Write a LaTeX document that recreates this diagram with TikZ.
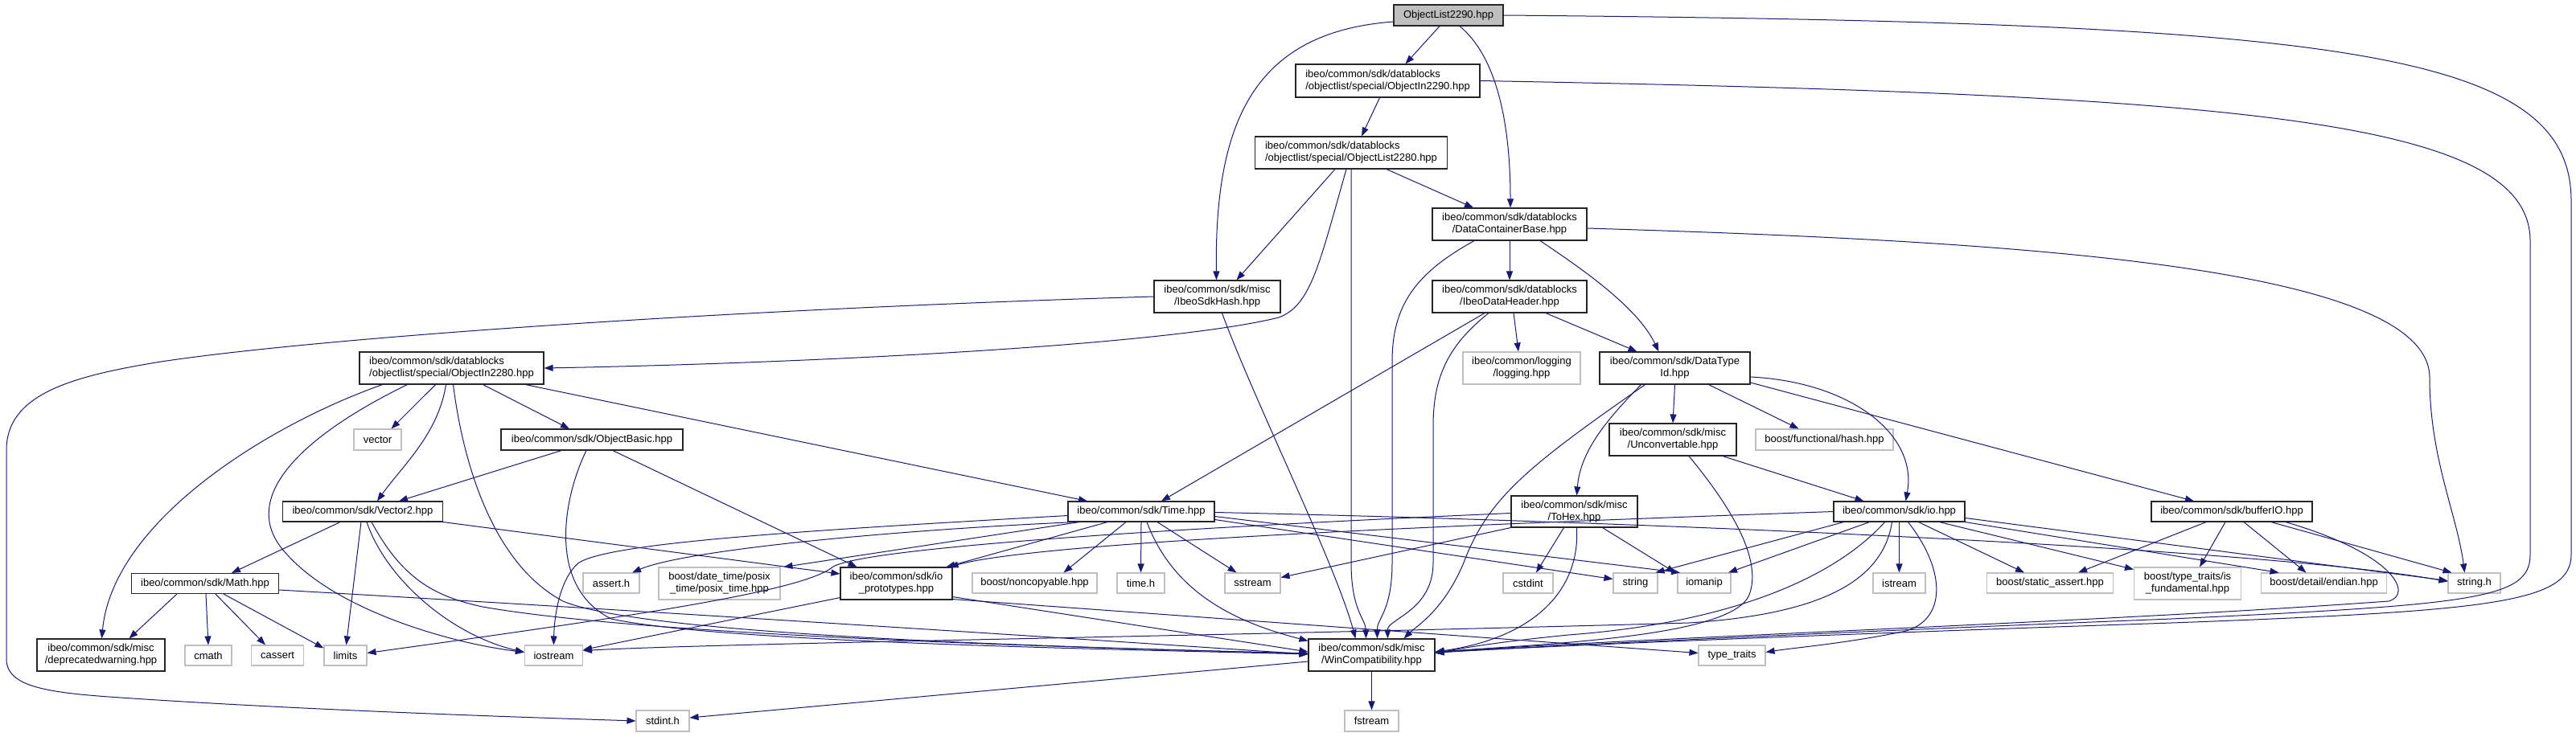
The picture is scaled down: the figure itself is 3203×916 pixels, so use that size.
\documentclass[tikz,border=0pt]{standalone}
\usepackage{fontspec}
\setmainfont{Liberation Sans}
\usetikzlibrary{arrows.meta}
\definecolor{edgec}{RGB}{25,25,112}
\definecolor{extgray}{RGB}{191,191,191}
\newcommand\mk[7]{\node[#2,minimum width=#5pt,minimum height=#6pt] (#1) at (#3,#4) {#7};}
\begin{document}
\begin{tikzpicture}[x=1pt,y=-1pt,
  base/.style={inner sep=0pt,align=center,font=\fontsize{13pt}{15pt}\selectfont,line width=1.1pt},
  fnode/.style={base,draw=black!85,fill=white},
  lnode/.style={fnode,align=left},
  xnode/.style={base,draw=extgray,fill=white},
  rnode/.style={base,draw=black!85,fill=extgray},
  edg/.style={draw=edgec,line width=1pt,-{Triangle[length=11pt,width=8pt]}}]
\fill[white] (0,0) rectangle (3203,916);
\useasboundingbox (0,0) rectangle (3203,916);
% nodes
\mk{l2290}{rnode}{1801}{19}{136}{26}{ObjectList2290.hpp}
\mk{in2290}{lnode}{1725.5}{100.5}{229}{41}{ibeo/common/sdk/datablocks\\/objectlist/special/ObjectIn2290.hpp}
\mk{l2280}{lnode}{1680}{190}{239}{40}{ibeo/common/sdk/datablocks\\/objectlist/special/ObjectList2280.hpp}
\mk{dcb}{fnode}{1877}{279}{192}{40}{ibeo/common/sdk/datablocks\\/DataContainerBase.hpp}
\mk{hash}{fnode}{1513.5}{369}{157}{40}{ibeo/common/sdk/misc\\/IbeoSdkHash.hpp}
\mk{idh}{fnode}{1877}{369}{192}{40}{ibeo/common/sdk/datablocks\\/IbeoDataHeader.hpp}
\mk{in2280}{lnode}{561.5}{458}{229}{40}{ibeo/common/sdk/datablocks\\/objectlist/special/ObjectIn2280.hpp}
\mk{logging}{xnode}{1892}{458}{146}{40}{ibeo/common/logging\\/logging.hpp}
\mk{dtid}{fnode}{2082.5}{458}{187}{40}{ibeo/common/sdk/DataType\\Id.hpp}
\mk{vector}{xnode}{469.5}{547}{59}{26}{vector}
\mk{objbasic}{fnode}{736}{547}{226}{26}{ibeo/common/sdk/ObjectBasic.hpp}
\mk{unconv}{fnode}{2080}{547}{158}{40}{ibeo/common/sdk/misc\\/Unconvertable.hpp}
\mk{fhash}{xnode}{2268.5}{547}{171}{26}{boost/functional/hash.hpp}
\mk{vector2}{fnode}{451}{636.5}{199}{25}{ibeo/common/sdk/Vector2.hpp}
\mk{time}{fnode}{1419}{636.5}{182}{25}{ibeo/common/sdk/Time.hpp}
\mk{tohex}{fnode}{1957.5}{636.5}{157}{39}{ibeo/common/sdk/misc\\/ToHex.hpp}
\mk{io}{fnode}{2361.5}{636.5}{163}{25}{ibeo/common/sdk/io.hpp}
\mk{bufferio}{fnode}{2775}{636.5}{200}{25}{ibeo/common/sdk/bufferIO.hpp}
\mk{math}{fnode}{255}{726}{183}{25}{ibeo/common/sdk/Math.hpp}
\mk{asserth}{xnode}{760}{725.5}{70}{25}{assert.h}
\mk{posix}{xnode}{894.5}{726}{151}{40}{boost/date\_time/posix\\\_time/posix\_time.hpp}
\mk{iop}{fnode}{1114.5}{726}{139}{40}{ibeo/common/sdk/io\\\_prototypes.hpp}
\mk{noncopy}{xnode}{1286.5}{725.5}{155}{25}{boost/noncopyable.hpp}
\mk{timeh}{xnode}{1418.5}{725.5}{59}{25}{time.h}
\mk{sstream}{xnode}{1557.5}{725.5}{69}{25}{sstream}
\mk{cstdint}{xnode}{1900}{725.5}{62}{25}{cstdint}
\mk{string}{xnode}{2033.5}{725.5}{55}{25}{string}
\mk{iomanip}{xnode}{2119}{725.5}{66}{25}{iomanip}
\mk{istream}{xnode}{2361.5}{725.5}{65}{25}{istream}
\mk{sassert}{xnode}{2549}{725.5}{157}{25}{boost/static\_assert.hpp}
\mk{isfund}{xnode}{2720}{726}{133}{40}{boost/type\_traits/is\\\_fundamental.hpp}
\mk{endian}{xnode}{2889.5}{725.5}{156}{25}{boost/detail/endian.hpp}
\mk{stringh}{xnode}{3076.5}{725.5}{65}{25}{string.h}
\mk{depw}{fnode}{125.5}{815}{159}{40}{ibeo/common/sdk/misc\\/deprecatedwarning.hpp}
\mk{cmath}{xnode}{259}{815.5}{58}{25}{cmath}
\mk{cassert}{xnode}{345}{815.5}{65}{25}{cassert}
\mk{limits}{xnode}{429.5}{815.5}{53}{25}{limits}
\mk{iostream}{xnode}{688.5}{815.5}{72}{25}{iostream}
\mk{wincomp}{fnode}{1705.5}{815}{157}{40}{ibeo/common/sdk/misc\\/WinCompatibility.hpp}
\mk{typetraits}{xnode}{2153.5}{815.5}{83}{25}{type\_traits}
\mk{stdinth}{xnode}{824}{897}{66}{26}{stdint.h}
\mk{fstream}{xnode}{1705.5}{897}{67}{26}{fstream}
% edges
\draw[edg] ([xshift=-11pt]l2290.south) -- ([xshift=22pt]in2290.north);
\draw[edg] ([yshift=-8pt]l2290.west) .. controls (1560,40) and (1510,150) .. ([xshift=-1pt]hash.north);
\draw[edg] ([xshift=14pt]l2290.south) .. controls (1860,70) and (1878,150) .. ([xshift=1pt]dcb.north);
\draw[edg] (l2290.east) .. controls (2900,28) and (3197,60) .. (3197,250) -- (3197,690) .. controls (3197,750) and (3100,760) .. (2700,775) .. controls (2200,792) and (1900,805) .. ([yshift=3pt]wincomp.east);
\draw[edg] ([xshift=-10pt]in2290.south) -- ([xshift=13pt]l2280.north);
\draw[edg] (in2290.east) .. controls (2800,118) and (3146,150) .. (3146,300) -- (3146,690) .. controls (3146,745) and (3080,752) .. (2700,770) .. controls (2200,790) and (1900,805) .. ([yshift=3pt]wincomp.east);
\draw[edg] ([xshift=-20pt]l2280.south) -- ([xshift=24pt]hash.north);
\draw[edg] ([xshift=44pt]l2280.south) -- ([xshift=-45pt]dcb.north);
\draw[edg] (l2280.south) -- (1680,700) .. controls (1680,760) and (1698,770) .. ([xshift=-7pt]wincomp.north);
\draw[edg] ([xshift=-6pt]l2280.south) .. controls (1640,330) and (1630,380) .. (1590,395) .. controls (1450,430) and (1000,452) .. (in2280.east);
\draw[edg] (dcb.south) -- (idh.north);
\draw[edg] ([xshift=38pt]dcb.south) .. controls (1960,330) and (2035,380) .. ([xshift=-20pt]dtid.north);
\draw[edg] ([xshift=-44pt]dcb.south) .. controls (1760,340) and (1731,380) .. (1731,450) -- (1731,700) .. controls (1731,760) and (1712,770) .. ([xshift=7pt]wincomp.north);
\draw[edg] ([yshift=-5pt]dcb.east) .. controls (2500,300) and (3021,330) .. (3021,470) .. controls (3021,570) and (3055,640) .. ([xshift=-12pt]stringh.north);
\draw[edg] (hash.west) .. controls (900,385) and (400,420) .. (200,450) .. controls (90,468) and (8,490) .. (8,560) -- (8,820) .. controls (8,855) and (60,862) .. (150,868) .. controls (400,885) and (700,894) .. (stdinth.west);
\draw[edg] ([xshift=6pt]hash.south) .. controls (1560,500) and (1660,700) .. ([xshift=-20pt]wincomp.north);
\draw[edg] ([xshift=5pt]idh.south) -- ([xshift=-4pt]logging.north);
\draw[edg] ([xshift=45pt]idh.south) -- ([xshift=-47pt]dtid.north);
\draw[edg] ([xshift=-26pt]idh.south) .. controls (1800,430) and (1782,470) .. (1782,530) -- (1782,700) .. controls (1782,760) and (1725,770) .. ([xshift=20pt]wincomp.north);
\draw[edg] ([xshift=-31pt]idh.south) -- ([xshift=25pt]time.north);
\draw[edg] ([xshift=-86pt]in2280.south) .. controls (330,530) and (140,650) .. ([xshift=1pt]depw.north);
\draw[edg] ([xshift=-55pt]in2280.south) .. controls (380,540) and (290,620) .. (357,690) .. controls (420,760) and (560,800) .. ([yshift=4pt]iostream.west);
\draw[edg] ([xshift=-20pt]in2280.south) -- ([xshift=17pt]vector.north);
\draw[edg] ([xshift=-7pt]in2280.south) .. controls (545,540) and (500,580) .. ([xshift=18pt]vector2.north);
\draw[edg] ([xshift=2pt]in2280.south) .. controls (575,570) and (610,700) .. (700,748) .. controls (800,790) and (1300,805) .. ([yshift=2pt]wincomp.west);
\draw[edg] ([xshift=39pt]in2280.south) -- ([xshift=-28pt]objbasic.north);
\draw[edg] ([xshift=92pt]in2280.south) -- ([xshift=-67pt]time.north);
\draw[edg] (dtid.south) -- (unconv.north);
\draw[edg] ([xshift=42pt]dtid.south) -- ([xshift=-32pt]fhash.north);
\draw[edg] ([yshift=-11pt]dtid.east) .. controls (2300,475) and (2385,540) .. ([xshift=8pt]io.north);
\draw[edg] ([yshift=-18pt]dtid.east) -- ([xshift=-47pt]bufferio.north);
\draw[edg] ([xshift=-42pt]dtid.south) .. controls (2000,520) and (1965,560) .. ([xshift=3pt]tohex.north);
\draw[edg] ([xshift=-37pt]dtid.south) .. controls (1900,580) and (1850,620) .. (1820,700) .. controls (1795,760) and (1760,780) .. ([xshift=40pt]wincomp.north);
\draw[edg] ([xshift=-38pt]objbasic.south) -- ([xshift=45pt]vector2.north);
\draw[edg] ([xshift=-7pt]objbasic.south) .. controls (700,620) and (680,730) .. (760,770) .. controls (900,800) and (1400,808) .. ([yshift=1pt]wincomp.west);
\draw[edg] ([xshift=26pt]objbasic.south) -- ([xshift=-49pt]iop.north);
\draw[edg] ([xshift=62pt]unconv.south) -- ([xshift=-44pt]io.north);
\draw[edg] ([xshift=20pt]unconv.south) .. controls (2160,640) and (2190,700) .. (2175,740) .. controls (2155,790) and (1950,800) .. ([yshift=4pt]wincomp.east);
\draw[edg] ([xshift=-28pt]vector2.south) -- ([xshift=33pt]math.north);
\draw[edg] ([xshift=-2pt]vector2.south) -- ([xshift=1pt]limits.north);
\draw[edg] ([xshift=5pt]vector2.south) .. controls (480,720) and (560,790) .. ([yshift=4pt]iostream.west);
\draw[edg] ([xshift=11pt]vector2.south) .. controls (500,720) and (540,742) .. (600,755) .. controls (800,790) and (1300,805) .. ([yshift=2pt]wincomp.west);
\draw[edg] (vector2.south east) -- ([yshift=12pt]iop.west);
\draw[edg] ([yshift=-5pt]time.west) .. controls (1000,660) and (760,675) .. (720,700) .. controls (695,720) and (689,770) .. (iostream.north);
\draw[edg] ([xshift=-82pt]time.south) .. controls (1100,660) and (850,685) .. ([xshift=26pt]asserth.north);
\draw[edg] ([xshift=-77pt]time.south) -- ([xshift=80pt]posix.north);
\draw[edg] ([xshift=-42pt]time.south) -- ([xshift=62pt]iop.north);
\draw[edg] ([xshift=-19pt]time.south) -- ([xshift=36pt]noncopy.north);
\draw[edg] (time.south) -- (timeh.north);
\draw[edg] ([xshift=20pt]time.south) -- ([xshift=-20pt]sstream.north);
\draw[edg] ([xshift=7pt]time.south) .. controls (1460,740) and (1540,775) .. ([yshift=-3pt]wincomp.north west);
\draw[edg] ([yshift=-10pt]time.east) -- ([yshift=5pt]string.west);
\draw[edg] ([yshift=-6pt]time.east) -- ([xshift=-30pt]iomanip.north);
\draw[edg] ([yshift=-1pt]time.east) .. controls (2000,648) and (2800,680) .. ([yshift=2pt]stringh.west);
\draw[edg] (tohex.south west) -- ([yshift=7pt]sstream.east);
\draw[edg] ([xshift=-13pt]tohex.south) -- ([xshift=10pt]cstdint.north);
\draw[edg] ([xshift=35pt]tohex.south) -- ([xshift=-36pt]iomanip.north);
\draw[edg] ([xshift=3pt]tohex.south) .. controls (1965,740) and (1900,795) .. ([yshift=4pt]wincomp.east);
\draw[edg] ([yshift=-2pt]tohex.west) .. controls (1500,655) and (1080,680) .. (1036,705) .. controls (1000,735) and (800,765) .. ([yshift=3pt]limits.east);
\draw[edg] (io.west) .. controls (1900,650) and (1300,672) .. ([xshift=-4pt]iop.north east);
\draw[edg] ([xshift=-69pt]io.south) -- ([xshift=25pt]string.north);
\draw[edg] ([xshift=-37pt]io.south) -- ([xshift=30pt]iomanip.north);
\draw[edg] ([xshift=-18pt]io.south) .. controls (2280,720) and (2150,775) .. (1950,790) .. controls (1850,800) and (1810,808) .. ([yshift=2pt]wincomp.east);
\draw[edg] ([xshift=-9pt]io.south) .. controls (2340,730) and (2250,765) .. (2100,775) .. controls (1500,792) and (900,800) .. ([yshift=6pt]iostream.east);
\draw[edg] (io.south) -- (istream.north);
\draw[edg] ([xshift=11pt]io.south) .. controls (2420,710) and (2420,770) .. (2370,785) .. controls (2300,800) and (2230,806) .. ([yshift=4pt]typetraits.east);
\draw[edg] ([xshift=24pt]io.south) -- ([xshift=-32pt]sassert.north);
\draw[edg] ([xshift=50pt]io.south) -- ([yshift=-3pt]isfund.north west);
\draw[edg] (io.south east) -- ([xshift=-56pt]endian.north);
\draw[edg] ([yshift=-8pt]io.east) -- ([yshift=3pt]stringh.west);
\draw[edg] ([xshift=-32pt]bufferio.south) -- ([xshift=35pt]sassert.north);
\draw[edg] ([xshift=-8pt]bufferio.south) -- ([xshift=15pt]isfund.north);
\draw[edg] ([xshift=15pt]bufferio.south) -- ([xshift=-22pt]endian.north);
\draw[edg] ([xshift=49pt]bufferio.south) -- ([xshift=-28pt]stringh.north);
\draw[edg] ([xshift=67pt]bufferio.south) .. controls (2980,690) and (3000,740) .. (2970,748) .. controls (2600,775) and (2000,795) .. ([yshift=3pt]wincomp.east);
\draw[edg] ([xshift=-35pt]math.south) -- ([xshift=35pt]depw.north);
\draw[edg] ([xshift=1pt]math.south) -- (cmath.north);
\draw[edg] ([xshift=13pt]math.south) -- ([xshift=-15pt]cassert.north);
\draw[edg] ([xshift=23pt]math.south) -- ([yshift=-4pt]limits.north west);
\draw[edg] ([yshift=-8pt]math.east) .. controls (800,760) and (1300,792) .. ([yshift=1pt]wincomp.west);
\draw[edg] ([yshift=3pt]iop.south west) -- ([yshift=7pt]iostream.east);
\draw[edg] ([yshift=4pt]iop.south east) -- ([yshift=4pt]wincomp.west);
\draw[edg] ([yshift=1pt]iop.south east) -- ([yshift=3pt]typetraits.west);
\draw[edg] ([yshift=-8pt]wincomp.west) -- ([yshift=4pt]stdinth.east);
\draw[edg] (wincomp.south) -- (fstream.north);
\end{tikzpicture}
\end{document}
